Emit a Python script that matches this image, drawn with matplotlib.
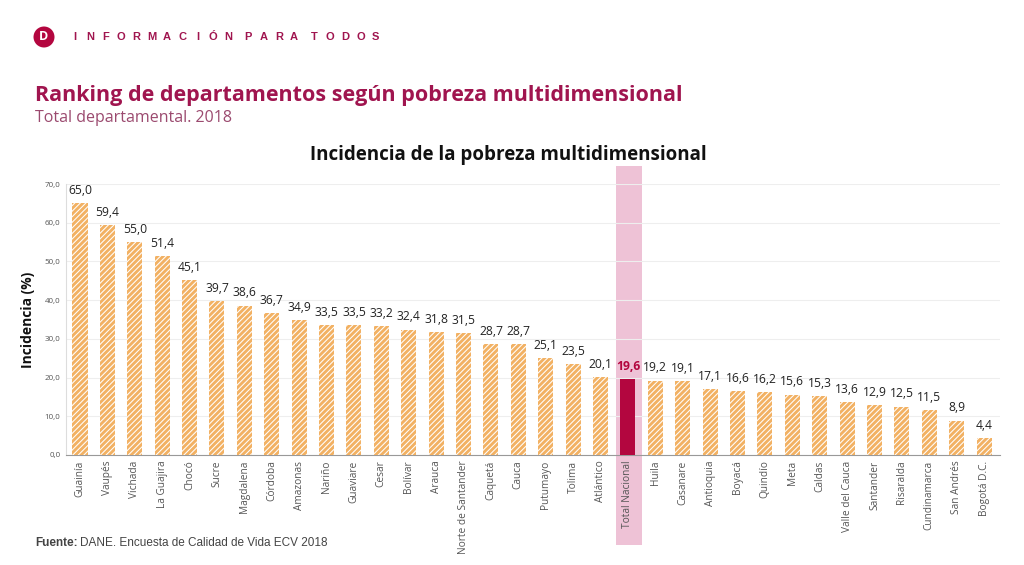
import matplotlib.pyplot as plt
from matplotlib.patches import Rectangle, Ellipse

# Data
departamentos = ['Guainía', 'Vaupés', 'Vichada', 'La Guajira', 'Chocó', 'Sucre', 'Magdalena',
                 'Córdoba', 'Amazonas', 'Nariño', 'Guaviare', 'Cesar', 'Bolívar', 'Arauca',
                 'Norte de Santander', 'Caquetá', 'Cauca', 'Putumayo', 'Tolima', 'Atlántico',
                 'Total Nacional', 'Huila', 'Casanare', 'Antioquia', 'Boyacá', 'Quindío', 'Meta',
                 'Caldas', 'Valle del Cauca', 'Santander', 'Risaralda', 'Cundinamarca',
                 'San Andrés', 'Bogotá D.C.']
incidencia = [65.0, 59.4, 55.0, 51.4, 45.1, 39.7, 38.6, 36.7, 34.9, 33.5, 33.5, 33.2, 32.4,
              31.8, 31.5, 28.7, 28.7, 25.1, 23.5, 20.1, 19.6, 19.2, 19.1, 17.1, 16.6, 16.2,
              15.6, 15.3, 13.6, 12.9, 12.5, 11.5, 8.9, 4.4]
yticks = [0, 10, 20, 30, 40, 50, 60, 70]

orange = '#F2B163'
crimson = '#B3063F'
wine = '#A0154F'

plt.rcParams['font.family'] = ['Open Sans', 'DejaVu Sans']
plt.rcParams['hatch.linewidth'] = 0.75

W, H = 1024, 565
fig = plt.figure(figsize=(W / 100, H / 100), dpi=100)
ax = fig.add_axes([66 / W, 1 - 455 / H, (1000 - 66) / W, (455 - 184) / H])
ax.set_zorder(2)

x = list(range(len(departamentos)))
total_idx = departamentos.index('Total Nacional')

# pink highlight band behind Total Nacional (extends outside axes)
fig.patches.append(Rectangle((616 / W, 1 - 545 / H), 26 / W, (545 - 166) / H,
                             transform=fig.transFigure, facecolor='#EEC2D6',
                             edgecolor='none', zorder=0))

colors = [crimson if i == total_idx else orange for i in x]
bars = ax.bar(x, incidencia, width=0.55, color=colors, edgecolor='white',
              linewidth=0, zorder=3)
for i, b in enumerate(bars):
    if i != total_idx:
        b.set_hatch('//////')

for i, v in enumerate(incidencia):
    lab = f'{v:.1f}'.replace('.', ',')
    if i == total_idx:
        ax.text(i, v + 1.6, lab, ha='center', va='bottom', fontsize=8.7,
                color=crimson, fontweight='bold', zorder=4)
    else:
        ax.text(i, v + 1.6, lab, ha='center', va='bottom', fontsize=8.7,
                color='#222222', zorder=4)

ax.set_xlim(-0.51, 33.58)
ax.set_ylim(0, 70)
ax.set_yticks(yticks)
ax.set_yticklabels([f'{t:.1f}'.replace('.', ',') for t in yticks], fontsize=5.8, color='#555555')
ax.set_xticks(x)
ax.set_xticklabels(departamentos, rotation=90, fontsize=7.3, color='#555555')
ax.tick_params(length=0, pad=4)
ax.grid(axis='y', color='#EEEEEE', linewidth=0.8, zorder=0)
ax.set_axisbelow(True)
ax.patch.set_alpha(0)
for s in ['top', 'right']:
    ax.spines[s].set_visible(False)
ax.spines['left'].set_color('#DDDDDD')
ax.spines['bottom'].set_color('#999999')

ax.set_ylabel('Incidencia (%)', fontsize=10, fontweight='bold', color='#111111', labelpad=7)

# header
fig.patches.append(Ellipse((44 / W, 1 - 37 / H), 21 / W, 21 / H, transform=fig.transFigure,
                           facecolor=crimson, edgecolor='none'))
fig.text(44 / W, 1 - 37 / H, 'D', ha='center', va='center', color='white',
         fontsize=9, fontweight='bold')
# letter-spaced header, one letter at a time
px = 75
for word in 'INFORMACIÓN PARA TODOS'.split(' '):
    for ch in word:
        fig.text(px / W, 1 - 37 / H, ch, ha='center', va='center', fontsize=8,
                 fontweight='bold', color=wine, family='Liberation Sans')
        px += 15.3
    px += 5
fig.text(35 / W, 1 - 95 / H, 'Ranking de departamentos según pobreza multidimensional',
         ha='left', va='center', fontsize=15.5, fontweight='bold', color=wine)
fig.text(35 / W, 1 - 118 / H, 'Total departamental. 2018',
         ha='left', va='center', fontsize=11.5, color='#9B4A6F')
fig.text(508 / W, 1 - 155 / H, 'Incidencia de la pobreza multidimensional',
         ha='center', va='center', fontsize=13.5, fontweight='bold', color='#111111')

# footer
fig.text(35 / W, 1 - 543 / H, 'Fuente:', ha='left', va='center', fontsize=8.5,
         fontweight='bold', color='#444444', family='Liberation Sans')
fig.text(80 / W, 1 - 543 / H, 'DANE. Encuesta de Calidad de Vida ECV 2018', ha='left',
         va='center', fontsize=8.5, color='#444444', family='Liberation Sans')

fig.savefig('out.png', dpi=100, facecolor='white')
